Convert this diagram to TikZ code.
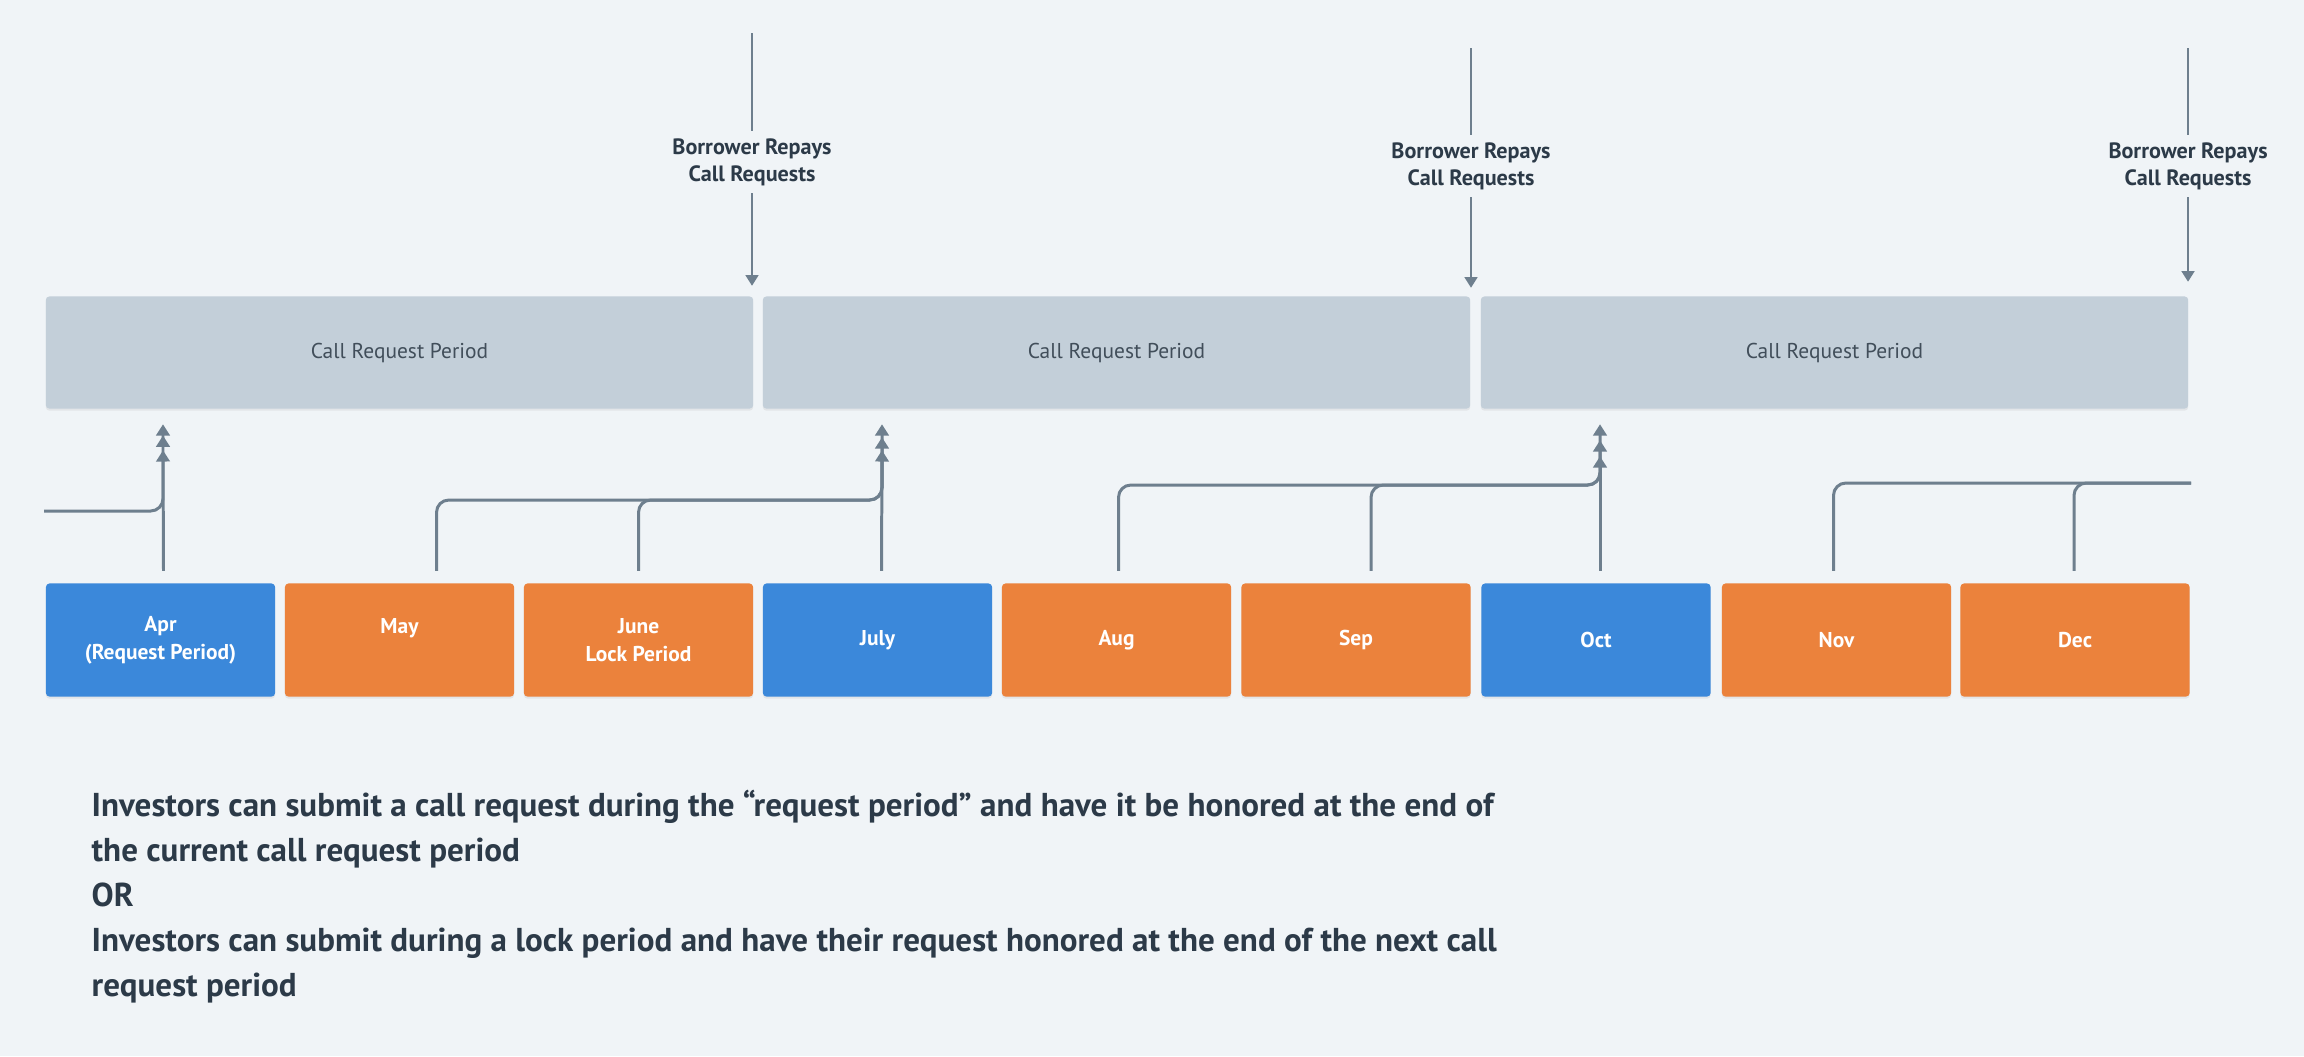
\documentclass[tikz,border=0pt]{standalone}
\usepackage{fontspec}
\setmainfont{PT Sans}
\usepackage{tikz}
\usetikzlibrary{positioning, arrows.meta, calc, shadows}

\definecolor{bgcol}{HTML}{F0F4F7}
\definecolor{periodgray}{HTML}{C3CFD9}
\definecolor{reqblue}{HTML}{3B88DA}
\definecolor{lockorange}{HTML}{EB823C}
\definecolor{linegray}{HTML}{6E7F8E}
\definecolor{textdark}{HTML}{2C3A48}

\tikzset{
  month/.style={minimum width=2.29cm, minimum height=1.13cm, inner sep=0pt,
    rounded corners=1pt, text=white, align=center,
    font=\bfseries\fontsize{6.1}{7.9}\selectfont,
    drop shadow={shadow xshift=0pt, shadow yshift=-0.6pt, opacity=0.12}},
  reqmonth/.style={month, fill=reqblue},
  lockmonth/.style={month, fill=lockorange},
  period/.style={minimum width=7.07cm, minimum height=1.12cm, inner sep=0pt,
    rounded corners=1pt, fill=periodgray, text=textdark!90,
    font=\fontsize{6.1}{7}\selectfont,
    drop shadow={shadow xshift=0pt, shadow yshift=-0.6pt, opacity=0.12}},
  repay/.style={align=center, text=textdark, inner sep=2pt,
    font=\bfseries\fontsize{6.3}{7.7}\selectfont},
  conn/.style={draw=linegray, line width=0.85pt, rounded corners=3.5pt},
  uptip/.style={-{Triangle[width=3.8pt,length=3.2pt]}},
  downarr/.style={draw=linegray, line width=0.6pt, -{Triangle[width=3.6pt,length=3pt]}},
}

\begin{document}
\begin{tikzpicture}[x=0.01cm, y=-0.01cm]

% Canvas
\fill[bgcol] (0,0) rectangle (2304,1056);
\useasboundingbox (0,0) rectangle (2304,1056);

% Call request periods
\node[period] (p1) at (399.5,352.5) {Call Request Period};
\node[period] (p2) at (1116.5,352.5) {Call Request Period};
\node[period] (p3) at (1834.5,352.5) {Call Request Period};

% Months
\node[reqmonth]  (apr)  at (160.5,640)  {Apr\\(Request Period)};
\node[lockmonth] (may)  at (399.5,640)  {May\\\mbox{}};
\node[lockmonth] (june) at (638.5,640)  {June\\Lock Period};
\node[reqmonth]  (july) at (877.5,640)  {July};
\node[lockmonth] (aug)  at (1116.5,640) {Aug};
\node[lockmonth] (sep)  at (1356,640)   {Sep};
\node[reqmonth]  (oct)  at (1596,640)   {Oct};
\node[lockmonth] (nov)  at (1836.5,640) {Nov};
\node[lockmonth] (dec)  at (2075,640)   {Dec};

% Borrower repays
\coordinate (s1) at (752,33);
\coordinate (s2) at (1471,48);
\coordinate (s3) at (2188,48);
\node[repay] (r1) at (752,162) {Borrower Repays\\Call Requests};
\node[repay] (r2) at (1471,166) {Borrower Repays\\Call Requests};
\node[repay] (r3) at (2188,166) {Borrower Repays\\Call Requests};
\draw[draw=linegray, line width=0.6pt] (s1) -- (r1);
\draw[draw=linegray, line width=0.6pt] (s2) -- (r2);
\draw[draw=linegray, line width=0.6pt] (s3) -- (r3);
\draw[downarr] (r1) -- ($(s1 |- p1.north)+(0,-10)$);
\draw[downarr] (r2) -- ($(s2 |- p2.north)+(0,-8)$);
\draw[downarr] (r3) -- ($(s3 |- p3.north)+(0,-14)$);

% Join points
\coordinate (prev) at (44,511);
\coordinate (j0) at (163,511);
\coordinate (j1) at (882,500);
\coordinate (j2) at (1600,485);
\coordinate (next) at (2191,483);

% Requests into the first period
\draw[conn, -{Triangle[width=3.8pt,length=3.2pt] Triangle[width=3.8pt,length=3.2pt]}]
  (prev) -- (j0) -- ($(j0 |- p1.south)+(0,15)$);
\draw[conn, uptip] ($(apr.north)+(3,-12)$) -- ($(j0 |- p1.south)+(0,41)$);

% Requests into the second period
\draw[conn, uptip] ($(may.north)+(37,-12)$) |- (j1) -- ($(j1 |- p2.south)+(0,15)$);
\draw[conn, uptip] ($(june.north)+(0,-12)$) |- (j1) -- ($(j1 |- p2.south)+(0,28)$);
\draw[conn, uptip] ($(july.north)+(4,-12)$) -- ($(j1 |- p2.south)+(0,41)$);

% Requests into the third period
\draw[conn, uptip] ($(aug.north)+(2,-12)$) |- (j2) -- ($(j2 |- p3.south)+(0,15)$);
\draw[conn, uptip] ($(sep.north)+(15,-12)$) |- (j2) -- ($(j2 |- p3.south)+(0,31)$);
\draw[conn, uptip] ($(oct.north)+(4,-12)$) -- ($(j2 |- p3.south)+(0,47)$);

% Requests into the next period
\draw[conn] ($(nov.north)+(-3,-12)$) |- (next);
\draw[conn] ($(dec.north)+(-1,-12)$) |- (next);

% Note
\node[anchor=north west, align=left, inner sep=0pt, text=textdark,
  font=\bfseries\fontsize{9.4}{12.8}\selectfont] (note) at (91,789)
  {Investors can submit a call request during the “request period” and have it be honored at the end of\\
   the current call request period\\
   OR\\
   Investors can submit during a lock period and have their request honored at the end of the next call\\
   request period};

\end{tikzpicture}
\end{document}
